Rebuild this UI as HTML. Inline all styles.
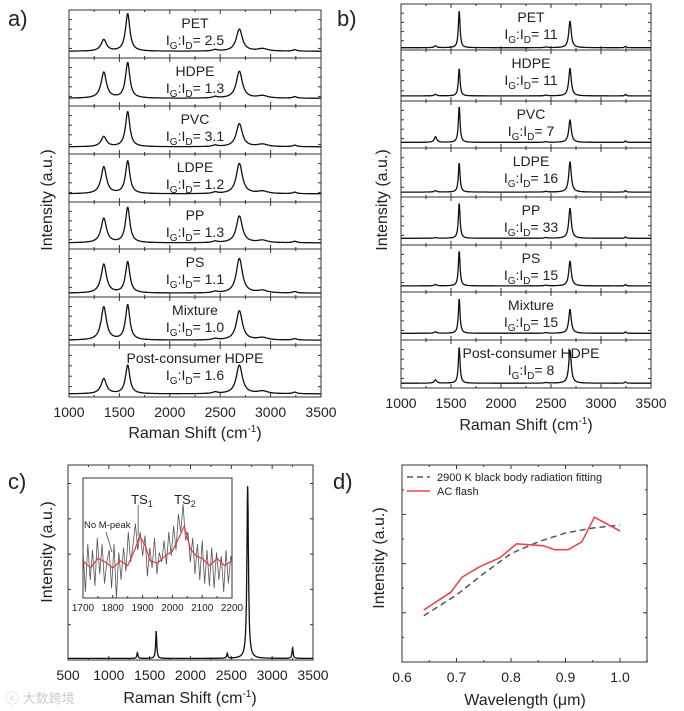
<!DOCTYPE html>
<html><head><meta charset="utf-8"><style>
html,body{margin:0;padding:0;background:#fff;}
svg{display:block;font-family:"Liberation Sans","Noto Sans CJK SC",sans-serif;}
</style></head><body>
<svg id="fig" width="684" height="711" viewBox="0 0 684 711"></svg>
<script>
// ---------- DATA ----------
const samplesA = ["PET","HDPE","PVC","LDPE","PP","PS","Mixture","Post-consumer HDPE"];
const ratiosA = ["2.5","1.3","3.1","1.2","1.3","1.1","1.0","1.6"];
const baseA = [0.14,0.16,0.15,0.17,0.13,0.08,0.10,0.06];
const dPeakA = [0.24,0.54,0.21,0.56,0.52,0.60,0.69,0.29];
const gPeakA = [0.78,0.74,0.73,0.68,0.75,0.65,0.73,0.55];
const twoDPeakA = [0.46,0.56,0.48,0.63,0.57,0.72,0.61,0.55];
const samplesB = ["PET","HDPE","PVC","LDPE","PP","PS","Mixture","Post-consumer HDPE"];
const ratiosB = ["11","11","7","16","33","15","15","8"];
const baseB = [0.05,0.10,0.12,0.10,0.14,0.13,0.14,0.10];
const dPeakB = [0.04,0.03,0.12,0.03,0.015,0.03,0.03,0.07];
const gPeakB = [0.81,0.54,0.77,0.60,0.74,0.75,0.73,0.76];
const twoDPeakB = [0.58,0.54,0.48,0.62,0.63,0.53,0.50,0.69];
const ticksRaman = [1000,1500,2000,2500,3000,3500];
const peaksC = [1350,1580,2450,2700,3250];
const heightsC = [0.03,0.14,0.025,0.89,0.055];
const ticksC = [500,1000,1500,2000,2500,3000,3500];
const insetX = [1700,1725,1750,1775,1800,1825,1850,1875,1890,1910,1925,1950,1975,2000,2025,2040,2060,2080,2100,2125,2150,2175,2200];
const insetRed = [0.31,0.25,0.33,0.30,0.25,0.31,0.27,0.41,0.52,0.43,0.31,0.29,0.35,0.39,0.52,0.60,0.41,0.35,0.33,0.27,0.33,0.27,0.31];
const insetGrayX = [1700,1708,1716,1724,1732,1740,1748,1756,1764,1772,1780,1788,1796,1804,1812,1820,1828,1836,1844,1852,1860,1868,1876,1884,1892,1900,1908,1916,1924,1932,1940,1948,1956,1964,1972,1980,1988,1996,2004,2012,2020,2028,2036,2044,2052,2060,2068,2076,2084,2092,2100,2108,2116,2124,2132,2140,2148,2156,2164,2172,2180,2188,2196,2200];
const insetGray = [0.40,0.05,0.45,0.15,0.40,0.10,0.50,0.20,0.45,0.12,0.30,0.40,0.08,0.45,0.00,0.38,0.15,0.42,0.22,0.55,0.30,0.45,0.62,0.40,0.55,0.35,0.52,0.18,0.42,0.25,0.50,0.20,0.38,0.30,0.48,0.28,0.55,0.35,0.60,0.40,0.70,0.55,0.78,0.48,0.55,0.30,0.50,0.20,0.45,0.15,0.48,0.12,0.40,0.10,0.42,0.08,0.38,0.15,0.35,0.05,0.40,0.12,0.35,0.30];
const ticksInset = [1700,1800,1900,2000,2100,2200];
const wavelengthsFlash = [0.64,0.69,0.71,0.74,0.78,0.81,0.86,0.88,0.905,0.93,0.953,1.00];
const intensityFlash = [0.264,0.355,0.43,0.48,0.53,0.60,0.59,0.57,0.57,0.61,0.735,0.665];
const wavelengthsFit = [0.64,0.70,0.75,0.80,0.85,0.90,0.95,1.00];
const intensityFit = [0.235,0.34,0.45,0.55,0.61,0.655,0.68,0.695];
const ticksD = [0.6,0.7,0.8,0.9,1.0];

// ---------- HELPERS ----------
const NS="http://www.w3.org/2000/svg";
const svg=document.getElementById('fig');
function el(tag,attrs,parent){const e=document.createElementNS(NS,tag);for(const k in attrs)e.setAttribute(k,attrs[k]);(parent||svg).appendChild(e);return e;}
function txt(x,y,s,size,anchor,parent,name){const t=el('text',{x:x,y:y,'font-size':size,'text-anchor':anchor||'middle',fill:'#222'},parent);t.textContent=s;


return t;}
function lor(x,c,w){return 1/(1+((x-c)/w)*((x-c)/w));}

function ramanStack(L,R,bounds,names,ratios,base,dH,gH,tH,narrow,panelName){
  const g=el('g',{});
  
  
  const xs=v=>L+(v-1000)/2500*(R-L);
  for(let i=0;i<names.length;i++){
    const top=bounds[i],bot=bounds[i+1],h=bot-top;
    const ys=v=>bot-v*h;
    const fr=el('rect',{x:L,y:top,width:R-L,height:h,fill:'none',stroke:'#333','stroke-width':1},g);
    
    
    for(let t=1000;t<=3500;t+=250){
      const len=(t%500===0)?4:2;
      el('line',{x1:xs(t),x2:xs(t),y1:bot,y2:bot-len,stroke:'#333'},g);
      el('line',{x1:xs(t),x2:xs(t),y1:top,y2:top+len,stroke:'#333'},g);
    }
    for(let k=1;k<5;k++){const yy=top+k*h/5;el('line',{x1:L,x2:L+3,y1:yy,y2:yy,stroke:'#333'},g);el('line',{x1:R,x2:R-3,y1:yy,y2:yy,stroke:'#333'},g);}
    let d='';
    const wD=narrow?15:32,wG=narrow?10:26,wT=narrow?15:36;
    for(let x=1000;x<=3500;x+=4){
      let v=base[i]+dH[i]*lor(x,1345,wD)+gH[i]*lor(x,1582,wG)+tH[i]*lor(x,2690,wT);
      if(narrow){v+=0.03*lor(x,3245,8)+0.015*lor(x,2450,15);}
      else{v+=0.05*lor(x,2920,60)+0.03*lor(x,2450,30)+0.03*lor(x,3240,25);}
      d+=(d?'L':'M')+xs(x).toFixed(1)+','+ys(Math.min(v,0.97)).toFixed(1);
    }
    const p=el('path',{d:d,fill:'none',stroke:'#111','stroke-width':1.3},g);
    
    
    const cx=(L+R)/2+(narrow?5:0);
    txt(cx,top+18,names[i],14,'middle',g,'sample-name');
    const r=el('text',{x:cx,y:top+35,'font-size':14,'text-anchor':'middle',fill:'#222'},g);
    
    
    r.innerHTML='I<tspan font-size="10" dy="4">G</tspan><tspan dy="-4">:I</tspan><tspan font-size="10" dy="4">D</tspan><tspan dy="-4">= '+ratios[i]+'</tspan>';
  }
  const last=bounds[bounds.length-1];
  ticksRaman.forEach(t=>txt(xs(t),last+20,String(t),14,'middle',g,'x-tick-label'));
}

// ---------- PANEL A ----------
txt(8,26,'a)',22,'start',svg,'panel-label-a');
ramanStack(69,321,[10,58,106,154,202,249,297,345,397],samplesA,ratiosA,baseA,dPeakA,gPeakA,twoDPeakA,false,'panel-a');
txt(195,438,'',16,'middle',svg,'x-axis-title-a').innerHTML='Raman Shift (cm<tspan font-size="10" dy="-6">-1</tspan><tspan dy="6">)</tspan>';
txt(0,0,'Intensity (a.u.)',16,'middle',svg,'y-axis-title-a').setAttribute('transform','translate(52,200) rotate(-90)');

// ---------- PANEL B ----------
txt(337,26,'b)',22,'start',svg,'panel-label-b');
ramanStack(401,651,[4,50,101,148,197,245,292,340,388],samplesB,ratiosB,baseB,dPeakB,gPeakB,twoDPeakB,true,'panel-b');
txt(526,430,'',16,'middle',svg,'x-axis-title-b').innerHTML='Raman Shift (cm<tspan font-size="10" dy="-6">-1</tspan><tspan dy="6">)</tspan>';
txt(0,0,'Intensity (a.u.)',16,'middle',svg,'y-axis-title-b').setAttribute('transform','translate(387,200) rotate(-90)');

// ---------- PANEL C ----------
(function(){
  const L=68,R=313,T=465,B=660;
  const g=el('g',{});
  
  
  const xs=v=>L+(v-500)/3000*(R-L), ys=v=>B-v*(B-T);
  txt(8,489,'c)',22,'start',svg,'panel-label-c');
  el('rect',{x:L,y:T,width:R-L,height:B-T,fill:'none',stroke:'#333'},g);
  for(let t=500;t<=3500;t+=250){const len=t%500===0?4:2;el('line',{x1:xs(t),x2:xs(t),y1:B,y2:B-len,stroke:'#333'},g);el('line',{x1:xs(t),x2:xs(t),y1:T,y2:T+len,stroke:'#333'},g);}
  for(let k=1;k<6;k++){const yy=B-k*35.3;el('line',{x1:L,x2:L+3,y1:yy,y2:yy,stroke:'#333'},g);el('line',{x1:R,x2:R-3,y1:yy,y2:yy,stroke:'#333'},g);}
  let d='';
  for(let x=500;x<=3500;x+=3){let v=0.008;peaksC.forEach((c,i)=>{v+=heightsC[i]*lor(x,c,c===2700?11:8);});d+=(d?'L':'M')+xs(x).toFixed(1)+','+ys(v).toFixed(1);}
  const p=el('path',{d:d,fill:'none',stroke:'#111','stroke-width':1.3},g);
  
  
  ticksC.forEach(t=>txt(xs(t),680,String(t),14,'middle',g,'x-tick-label'));
  txt(190,703,'',16,'middle',svg,'x-axis-title-c').innerHTML='Raman Shift (cm<tspan font-size="10" dy="-6">-1</tspan><tspan dy="6">)</tspan>';
  txt(0,0,'Intensity (a.u.)',16,'middle',svg,'y-axis-title-c').setAttribute('transform','translate(52,552) rotate(-90)');
  // inset
  const iL=83,iR=232,iT=478,iB=598;
  const ig=el('g',{},g);
  
  
  const ix=v=>iL+(v-1700)/500*(iR-iL), iy=v=>iB-v*(iB-iT);
  el('rect',{x:iL,y:iT,width:iR-iL,height:iB-iT,fill:'#fff',stroke:'#333'},ig);
  for(let t=1700;t<=2200;t+=50){const len=t%100===0?3:2;el('line',{x1:ix(t),x2:ix(t),y1:iB,y2:iB-len,stroke:'#333'},ig);}
  let gd='';insetGrayX.forEach((x,i)=>{gd+=(i?'L':'M')+ix(x).toFixed(1)+','+iy(insetGray[i]).toFixed(1);});
  const gp=el('path',{d:gd,fill:'none',stroke:'#555','stroke-width':0.8},ig);
  
  
  let rd='';insetX.forEach((x,i)=>{rd+=(i?'L':'M')+ix(x).toFixed(1)+','+iy(insetRed[i]).toFixed(1);});
  const rp=el('path',{d:rd,fill:'none',stroke:'#e0393f','stroke-width':1.2},ig);
  
  
  ticksInset.forEach(t=>txt(ix(t),611,String(t),10,'middle',ig,'inset-tick-label'));
  el('line',{x1:ix(1885),x2:ix(1885),y1:iy(0.52),y2:505,stroke:'#333','stroke-width':0.7},ig);
  el('line',{x1:106,x2:112,y1:532,y2:552,stroke:'#333','stroke-width':0.7},ig);
  txt(142,504,'',13,'middle',ig,'ts1-label').innerHTML='TS<tspan font-size="9" dy="3">1</tspan>';
  txt(185,504,'',13,'middle',ig,'ts2-label').innerHTML='TS<tspan font-size="9" dy="3">2</tspan>';
  txt(84,528,'No M-peak',9.5,'start',ig,'no-m-peak-label');
})();

// ---------- PANEL D ----------
(function(){
  const L=402,R=647,T=465,B=662;
  const g=el('g',{});
  
  
  const xs=v=>L+(v-0.6)*545, ys=v=>B-v*(B-T);
  txt(333,489,'d)',22,'start',svg,'panel-label-d');
  el('rect',{x:L,y:T,width:R-L,height:B-T,fill:'none',stroke:'#333'},g);
  for(let t=0.6;t<=1.051;t+=0.05){const major=Math.abs(t*10-Math.round(t*10))<0.01;const len=major?4:2;el('line',{x1:xs(t),x2:xs(t),y1:B,y2:B-len,stroke:'#333'},g);el('line',{x1:xs(t),x2:xs(t),y1:T,y2:T+len,stroke:'#333'},g);}
  for(let k=1;k<8;k++){const yy=B-k*24.6;const len=(k%2===0)?4:2;el('line',{x1:L,x2:L+len,y1:yy,y2:yy,stroke:'#333'},g);el('line',{x1:R,x2:R-len,y1:yy,y2:yy,stroke:'#333'},g);}
  ticksD.forEach(t=>txt(xs(t),682,t.toFixed(1),14,'middle',g,'x-tick-label'));
  txt(525,705,'',16,'middle',svg,'x-axis-title-d').innerHTML='Wavelength (\u03bcm)';
  txt(0,0,'Intensity (a.u.)',16,'middle',svg,'y-axis-title-d').setAttribute('transform','translate(384,558) rotate(-90)');
  let fd='';wavelengthsFit.forEach((w,i)=>{fd+=(i?'L':'M')+xs(w).toFixed(1)+','+ys(intensityFit[i]).toFixed(1);});
  const fp=el('path',{d:fd,fill:'none',stroke:'#555','stroke-width':1.5,'stroke-dasharray':'6,4'},g);
  
  
  let ad='';wavelengthsFlash.forEach((w,i)=>{ad+=(i?'L':'M')+xs(w).toFixed(1)+','+ys(intensityFlash[i]).toFixed(1);});
  const ap=el('path',{d:ad,fill:'none',stroke:'#e8474f','stroke-width':1.6},g);
  
  
  const lg=el('g',{},g);
  
  
  el('line',{x1:407,x2:430,y1:477,y2:477,stroke:'#555','stroke-width':1.5,'stroke-dasharray':'6,4'},lg);
  txt(437,481,'2900 K black body radiation fitting',11,'start',lg,'legend-entry-fit');
  el('line',{x1:407,x2:430,y1:491,y2:491,stroke:'#e8474f','stroke-width':1.6},lg);
  txt(437,495,'AC flash',11,'start',lg,'legend-entry-flash');
})();

// watermark
const wm=txt(6,703,'\u24d2 大数跨境',13,'start',svg,'watermark');
wm.setAttribute('fill','#ccc');
</script>
</body></html>
